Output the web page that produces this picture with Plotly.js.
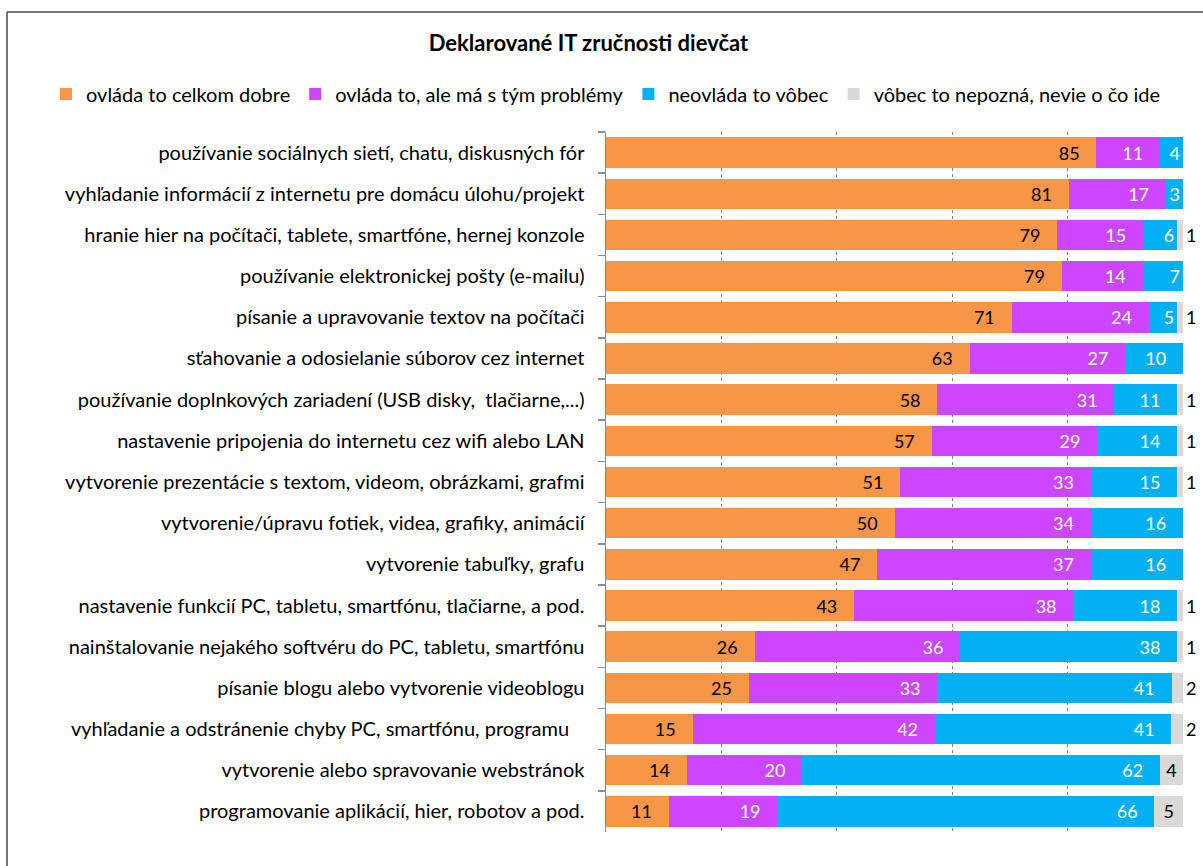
<!DOCTYPE html>
<html>
<head>
<meta charset="utf-8">
<script src="https://cdn.plot.ly/plotly-3.0.1.min.js"></script>
<style>
  html, body { margin: 0; padding: 0; background: #fff; }
  #chart { width: 1203px; height: 866px; }
</style>
</head>
<body>
<div id="chart"></div>
<script>
// Skill items (top to bottom)
const categories = [
  "používanie sociálnych sietí, chatu, diskusných fór",
  "vyhľadanie informácií z internetu pre domácu úlohu/projekt",
  "hranie hier na počítači, tablete, smartfóne, hernej konzole",
  "používanie elektronickej pošty (e-mailu)",
  "písanie a upravovanie textov na počítači",
  "sťahovanie a odosielanie súborov cez internet",
  "používanie doplnkových zariadení (USB disky,  tlačiarne,...)",
  "nastavenie pripojenia do internetu cez wifi alebo LAN",
  "vytvorenie prezentácie s textom, videom, obrázkami, grafmi",
  "vytvorenie/úpravu fotiek, videa, grafiky, animácií",
  "vytvorenie tabuľky, grafu",
  "nastavenie funkcií PC, tabletu, smartfónu, tlačiarne, a pod.",
  "nainštalovanie nejakého softvéru do PC, tabletu, smartfónu",
  "písanie blogu alebo vytvorenie videoblogu",
  "vyhľadanie a odstránenie chyby PC, smartfónu, programu   ",
  "vytvorenie alebo spravovanie webstránok",
  "programovanie aplikácií, hier, robotov a pod."
];

// Answers in percent
const celkomDobre = [85, 81, 79, 79, 71, 63, 58, 57, 51, 50, 47, 43, 26, 25, 15, 14, 11];
const sProblemami = [11, 17, 15, 14, 24, 27, 31, 29, 33, 34, 37, 38, 36, 33, 42, 20, 19];
const vobec       = [ 4,  3,  6,  7,  5, 10, 11, 14, 15, 16, 16, 18, 38, 41, 41, 62, 66];
const nepozna     = [ 0,  0,  1,  0,  1,  0,  1,  1,  1,  0,  0,  1,  1,  2,  2,  4,  5];

const seriesNames = [
  "ovláda to celkom dobre",
  "ovláda to, ale má s tým problémy",
  "neovláda to vôbec",
  "vôbec to nepozná, nevie o čo ide"
];
const colors = ["#F79646", "#CC46FF", "#00B0F0", "#D9D9D9"];

const FONT = "Lato, 'Liberation Sans', sans-serif";
const W = 1203, H = 866;
const M = { l: 606, r: 20, t: 132, b: 34 };
const PW = W - M.l - M.r, PH = H - M.t - M.b;
const px2x = px => (px - M.l) / PW;
const py2y = py => (H - M.b - py) / PH;

// label sits near the end of the segment, with some breathing room where it fits
const PAD = "\u00a0\u00a0\u00a0";
const endLabel = vals => vals.map(v => v === 0 ? "" : (v >= 8 ? v + PAD : String(v)));

function segment(i, vals, textColor) {
  return {
    type: "bar",
    orientation: "h",
    name: seriesNames[i],
    y: categories,
    x: vals,
    marker: { color: colors[i], line: { width: 0 } },
    text: endLabel(vals),
    textposition: "inside",
    insidetextanchor: "end",
    constraintext: "none",
    textangle: 0,
    textfont: { family: FONT, size: 18, color: textColor },
    hoverinfo: "name+x"
  };
}

const traces = [
  segment(0, celkomDobre, "#000000"),
  segment(1, sProblemami, "#ffffff"),
  segment(2, vobec, "#ffffff"),
  {
    type: "bar",
    orientation: "h",
    name: seriesNames[3],
    y: categories,
    x: nepozna,
    marker: { color: colors[3], line: { width: 0 } },
    text: nepozna.map(v => v === 0 ? "" : String(v)),
    textposition: nepozna.map(v => v >= 4 ? "inside" : "outside"),
    insidetextanchor: "middle",
    constraintext: "none",
    cliponaxis: false,
    textangle: 0,
    textfont: { family: FONT, size: 18, color: "#000000" },
    outsidetextfont: { family: FONT, size: 18, color: "#000000" },
    hoverinfo: "name+x"
  }
];

const frameColor = "#4a4a4a";
const layout = {
  width: W,
  height: H,
  margin: M,
  paper_bgcolor: "#ffffff",
  plot_bgcolor: "#ffffff",
  font: { family: FONT, size: 20, color: "#000000" },
  barmode: "stack",
  barnorm: "percent",
  bargap: 0.26,
  title: {
    text: "<b>Deklarované IT zručnosti dievčat</b>",
    font: { family: FONT, size: 22, color: "#000000" },
    xref: "container", yref: "container",
    x: 588.5 / W, xanchor: "center",
    y: 1 - 43 / H, yanchor: "middle"
  },
  showlegend: true,
  legend: {
    orientation: "h",
    traceorder: "normal",
    xref: "paper", yref: "paper",
    x: px2x(46), xanchor: "left",
    y: py2y(94), yanchor: "middle",
    font: { family: FONT, size: 20, color: "#000000" },
    itemwidth: 30,
    bgcolor: "rgba(0,0,0,0)"
  },
  xaxis: {
    range: [0, 100],
    tickvals: [0, 20, 40, 60, 80, 100],
    showticklabels: false,
    ticks: "",
    showgrid: true,
    gridcolor: "#7f7f7f",
    griddash: "dot",
    gridwidth: 1,
    zeroline: false,
    showline: false,
    fixedrange: true
  },
  yaxis: {
    autorange: "reversed",
    type: "category",
    showline: true,
    linecolor: "#8c8c8c",
    linewidth: 1.5,
    ticks: "outside",
    tickson: "boundaries",
    ticklen: 7,
    tickwidth: 1.5,
    tickcolor: "#8c8c8c",
    ticklabelstandoff: 16,
    showgrid: false,
    automargin: false,
    tickfont: { family: FONT, size: 20, color: "#000000" },
    fixedrange: true
  },
  shapes: [
    {
      type: "line", xref: "paper", yref: "paper", layer: "above",
      x0: px2x(7), x1: px2x(7), y0: py2y(H + 5), y1: py2y(12),
      line: { color: frameColor, width: 1.5 }
    },
    {
      type: "line", xref: "paper", yref: "paper", layer: "above",
      x0: px2x(7), x1: px2x(W + 5), y0: py2y(12), y1: py2y(12),
      line: { color: frameColor, width: 1.5 }
    }
  ]
};

Plotly.newPlot("chart", traces, layout, { displayModeBar: false, staticPlot: true });
</script>
</body>
</html>
